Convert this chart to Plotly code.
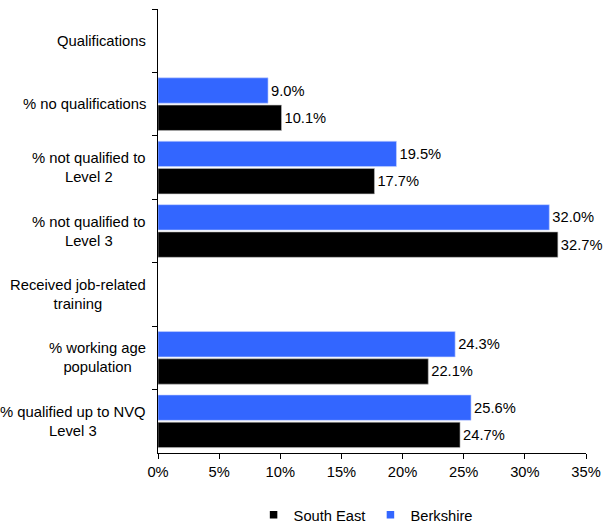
import plotly.graph_objects as go

categories = [
    "Qualifications",
    "% no qualifications",
    "% not qualified to<br>Level 2",
    "% not qualified to<br>Level 3",
    "Received job-related<br>training",
    "% working age<br>population",
    "% qualified up to NVQ<br>Level 3",
]
berkshire = [None, 9.0, 19.5, 32.0, None, 24.3, 25.6]
south_east = [None, 10.1, 17.7, 32.7, None, 22.1, 24.7]
x_ticks = [0, 5, 10, 15, 20, 25, 30, 35]

BLUE = "#3366FF"
BLACK = "#000000"
FONT = dict(family="Liberation Sans, Arial, sans-serif", size=14.7, color="#000")
LABEL_FONT = dict(FONT, size=14.8)


def labels(vals):
    return [f"{v:.1f}%" if v is not None else "" for v in vals]


fig = go.Figure()

# Berkshire first so it sits on top of each pair (y axis reversed)
fig.add_trace(go.Bar(
    y=categories, x=berkshire, orientation="h", name="Berkshire",
    marker=dict(color=BLUE, line=dict(color="#c8d4ff", width=0.6)),
    text=labels(berkshire), textposition="outside", cliponaxis=False,
    textfont=FONT, showlegend=False,
))
fig.add_trace(go.Bar(
    y=categories, x=south_east, orientation="h", name="South East",
    marker=dict(color=BLACK, line=dict(color="#bbbbbb", width=0.6)),
    text=labels(south_east), textposition="outside", cliponaxis=False,
    textfont=FONT, showlegend=False,
))

# small square legend keys, like the original
for name, color in [("South East", BLACK), ("Berkshire", BLUE)]:
    fig.add_trace(go.Scatter(
        x=[None], y=[None], mode="markers", name=name,
        marker=dict(symbol="square", size=7.5, color=color),
    ))

# Category labels as centred annotations
for cat in categories:
    fig.add_annotation(
        x=0, xref="paper", y=cat, yref="y",
        text=cat, showarrow=False, xanchor="right", align="center",
        xshift=-10, font=LABEL_FONT,
    )

fig.update_layout(
    width=604, height=523,
    paper_bgcolor="white", plot_bgcolor="white",
    font=FONT,
    barmode="group", bargap=0.14, bargroupgap=0.07,
    margin=dict(l=158, r=18, t=9, b=70, autoexpand=False),
    showlegend=True,
    legend=dict(
        orientation="h", x=0.485, xanchor="center", y=-0.103, yanchor="top",
        font=FONT, itemwidth=30, tracegroupgap=0,
    ),
)

fig.update_xaxes(
    range=[0, 35], tickvals=x_ticks, ticktext=[f"{t}%" for t in x_ticks],
    showgrid=False, zeroline=False,
    showline=True, linecolor="#000", linewidth=1,
    ticks="outside", ticklen=5, tickcolor="#000",
    tickfont=FONT,
)
fig.update_yaxes(
    autorange="reversed", showticklabels=False,
    showgrid=False, zeroline=False,
    showline=True, linecolor="#000", linewidth=1,
    ticks="outside", ticklen=5, tickcolor="#000",
    tickson="boundaries",
)

# drop the default 8px body margin so the figure fills the window exactly
fig.write_html(
    "out.html",
    config={"displayModeBar": False},
    post_script="document.body.style.margin='0';",
)
